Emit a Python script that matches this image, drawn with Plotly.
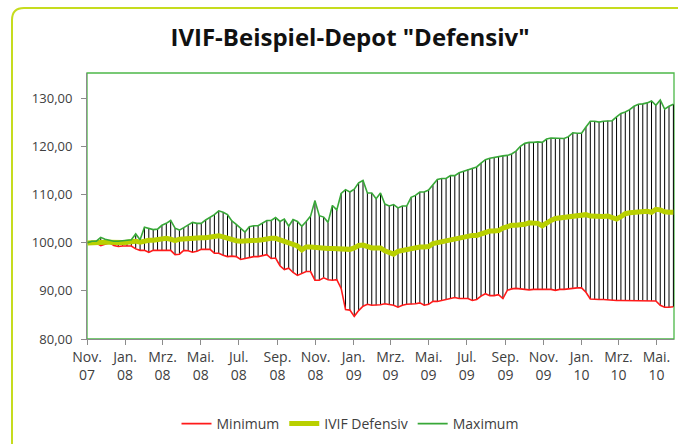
import pandas as pd
import plotly.graph_objects as go

# ---------------- data (weekly values) ----------------
start_date = "2007-11-02"

minimum = [
    100.0, 99.9, 99.9, 99.4, 99.7, 100.0, 99.4, 99.2, 99.3, 99.3,
    99.3, 98.7, 98.4, 98.4, 98.0, 98.4, 98.4, 98.4, 98.4, 98.4,
    97.5, 97.6, 98.4, 98.3, 98.0, 98.2, 98.6, 98.6, 98.6, 97.8,
    97.8, 97.4, 97.1, 97.2, 97.1, 96.5, 96.7, 97.0, 97.1, 97.1,
    97.3, 97.5, 96.7, 96.8, 95.2, 94.4, 94.7, 93.8, 93.2, 93.6,
    94.0, 94.0, 92.2, 92.2, 92.7, 92.3, 92.2, 92.3, 90.5, 86.1,
    86.0, 84.7, 85.9, 86.8, 87.2, 87.0, 87.0, 87.1, 87.3, 87.2,
    87.0, 86.6, 87.0, 87.2, 87.2, 87.3, 87.5, 87.0, 87.2, 87.8,
    87.8, 88.0, 88.1, 88.3, 88.6, 88.4, 88.4, 88.4, 88.0, 88.2,
    88.9, 89.4, 89.0, 89.0, 89.2, 88.4, 90.1, 90.4, 90.5, 90.4,
    90.3, 90.2, 90.3, 90.3, 90.3, 90.4, 90.3, 90.1, 90.3, 90.3,
    90.4, 90.6, 90.6, 90.6, 89.7, 88.3, 88.2, 88.2, 88.2, 88.1,
    88.1, 88.0, 88.0, 88.0, 88.0, 88.0, 88.0, 88.0, 87.9, 87.9,
    87.9, 87.0, 86.6, 86.6, 86.7,
]

ivif_defensiv = [
    99.9, 100.0, 100.0, 100.1, 100.1, 100.1, 100.0, 100.0, 100.0, 100.1,
    100.2, 100.3, 100.1, 100.4, 100.5, 100.5, 100.6, 100.9, 100.9, 100.7,
    100.4, 100.7, 100.8, 100.8, 100.8, 100.9, 101.0, 101.0, 101.1, 101.3,
    101.4, 101.2, 100.9, 100.6, 100.4, 100.3, 100.3, 100.4, 100.4, 100.5,
    100.6, 100.8, 100.9, 100.9, 100.6, 100.2, 99.8, 99.5, 99.3, 98.5,
    99.1, 99.1, 99.0, 98.8, 98.8, 98.8, 98.8, 98.7, 98.6, 98.5,
    98.6, 98.9, 99.4, 99.5, 99.1, 98.9, 98.9, 98.9, 98.3, 98.0,
    97.6, 98.2, 98.4, 98.5, 98.6, 98.8, 99.1, 99.1, 99.2, 99.8,
    100.0, 100.1, 100.4, 100.7, 100.9, 101.0, 101.2, 101.4, 101.5, 101.5,
    101.8, 102.2, 102.4, 102.4, 102.5, 103.0, 103.4, 103.6, 103.6, 103.6,
    103.8, 104.1, 104.1, 104.0, 103.5, 104.2, 104.6, 105.0, 105.1, 105.2,
    105.4, 105.5, 105.5, 105.6, 105.8, 105.5, 105.4, 105.4, 105.4, 105.5,
    105.2, 104.9, 105.4, 106.0, 106.2, 106.3, 106.4, 106.5, 106.5, 106.3,
    106.9, 106.8, 106.4, 106.3, 106.3,
]

maximum = [
    100.0, 100.3, 100.3, 101.1, 100.7, 100.5, 100.3, 100.3, 100.4, 100.5,
    100.6, 101.8, 100.6, 103.2, 103.0, 102.7, 102.8, 103.6, 104.0, 104.6,
    103.0, 102.6, 103.1, 103.6, 104.2, 104.0, 104.0, 104.7, 105.3, 105.8,
    106.6, 106.3, 105.8, 104.5, 103.8, 103.0, 102.2, 103.3, 103.5, 103.5,
    104.1, 104.6, 104.6, 105.2, 104.4, 104.9, 103.4, 104.8, 104.4, 103.4,
    104.4, 105.5, 108.7, 105.6, 105.3, 104.2, 107.7, 106.8, 110.2, 111.0,
    110.5, 111.1, 112.4, 112.9, 110.3, 110.3, 109.1, 110.3, 108.0, 107.6,
    107.9, 107.2, 107.6, 107.6, 109.4, 109.8, 110.5, 110.5, 110.9, 111.9,
    113.1, 113.3, 113.3, 113.9, 113.9, 114.5, 114.8, 115.2, 115.5, 115.7,
    116.5, 117.2, 117.5, 117.7, 117.8, 118.0, 118.1, 118.4, 119.0, 120.0,
    120.6, 120.8, 120.8, 120.9, 120.8, 121.5, 121.7, 121.7, 121.6, 121.6,
    122.0, 122.8, 122.7, 122.7, 124.0, 125.2, 125.2, 125.0, 125.2, 125.3,
    125.3, 126.1, 126.8, 127.1, 127.6, 128.3, 128.7, 128.8, 129.0, 129.4,
    128.5, 129.6, 127.7, 128.3, 128.7,
]

tick_dates = [
    "2007-11-01", "2008-01-01", "2008-03-01", "2008-05-01", "2008-07-01",
    "2008-09-01", "2008-11-01", "2009-01-01", "2009-03-01", "2009-05-01",
    "2009-07-01", "2009-09-01", "2009-11-01", "2010-01-01", "2010-03-01",
    "2010-05-01",
]
tick_labels = [
    "Nov.<br>07", "Jan.<br>08", "Mrz.<br>08", "Mai.<br>08", "Jul.<br>08",
    "Sep.<br>08", "Nov.<br>08", "Jan.<br>09", "Mrz.<br>09", "Mai.<br>09",
    "Jul.<br>09", "Sep.<br>09", "Nov.<br>09", "Jan.<br>10", "Mrz.<br>10",
    "Mai.<br>10",
]
series_names = ["Minimum", "IVIF Defensiv", "Maximum"]

# ---------------- figure ----------------
dates = pd.date_range(start_date, periods=len(maximum), freq="7D")

W, H = 678, 444
ML, MR, MT, MB = 87, 4, 73, 105
PW, PH = W - ML - MR, H - MT - MB

FONT = "Open Sans"
TXT = "#404040"
AXIS = "#8c8c8c"

# high-low lines
vx, vy = [], []
for d, lo, hi in zip(dates, minimum, maximum):
    vx += [d, d, None]
    vy += [lo, hi, None]

fig = go.Figure()
fig.add_trace(go.Scatter(x=vx, y=vy, mode="lines", line=dict(color="#000000", width=1),
                         showlegend=False, hoverinfo="skip"))
fig.add_trace(go.Scatter(x=dates, y=minimum, mode="lines", name=series_names[0],
                         line=dict(color="#ff1a1a", width=1.6)))
fig.add_trace(go.Scatter(x=dates, y=ivif_defensiv, mode="lines", name=series_names[1],
                         line=dict(color="#b9d000", width=5)))
fig.add_trace(go.Scatter(x=dates, y=maximum, mode="lines", name=series_names[2],
                         line=dict(color="#38a838", width=1.6)))


def px(x):
    return (x - ML) / PW


def py(y):
    return (H - MB - y) / PH


# outer rounded frame (extends past right/bottom edges)
r = 12
x0, y0, x1, y1 = 12, 8, 720, 470
path = (f"M {px(x0)},{py(y1)} L {px(x0)},{py(y0 + r)} "
        f"Q {px(x0)},{py(y0)} {px(x0 + r)},{py(y0)} L {px(x1)},{py(y0)}")
shapes = [
    dict(type="path", xref="paper", yref="paper", path=path,
         line=dict(color="#c6dc1e", width=2), layer="below"),
    dict(type="rect", xref="paper", yref="paper", x0=0, y0=0, x1=1, y1=1,
         line=dict(color="#4cb848", width=1.3), layer="below"),
]

fig.update_layout(
    width=W, height=H,
    margin=dict(l=ML, r=MR, t=MT, b=MB, autoexpand=False),
    paper_bgcolor="white", plot_bgcolor="white",
    font=dict(family=FONT, size=14, color=TXT),
    separators=",.",
    title=dict(text='IVIF-Beispiel-Depot "Defensiv"', x=350 / W, xanchor="center",
               xref="container", y=1 - 38 / H, yanchor="middle", yref="container",
               font=dict(family=FONT, size=24, color="#111111", weight="bold")),
    showlegend=True,
    legend=dict(orientation="h", x=350 / W, xanchor="center", xref="container",
                y=1 - 424 / H, yanchor="middle", yref="container",
                font=dict(family=FONT, size=14, color=TXT),
                bgcolor="rgba(0,0,0,0)", traceorder="normal"),
    shapes=shapes,
    xaxis=dict(type="date", range=["2007-11-01", "2010-05-29"],
               tickmode="array", tickvals=tick_dates, ticktext=tick_labels,
               showgrid=False, zeroline=False, showline=True, linecolor=AXIS, linewidth=1,
               ticks="outside", ticklen=5, tickcolor=AXIS, tickangle=0,
               tickfont=dict(family=FONT, size=14, color=TXT), fixedrange=True),
    yaxis=dict(range=[80, 135.2], tickmode="array", tickvals=[80, 90, 100, 110, 120, 130],
               tickformat=".2f", showgrid=False, zeroline=False, showline=True,
               linecolor=AXIS, linewidth=1, ticks="outside", ticklen=5, tickcolor=AXIS,
               ticklabelstandoff=6,
               tickfont=dict(family=FONT, size=13, color=TXT), fixedrange=True),
)

fig.write_html("out.html", config={"displayModeBar": False},
               post_script="document.body.style.margin='0';document.body.style.overflow='hidden';")
